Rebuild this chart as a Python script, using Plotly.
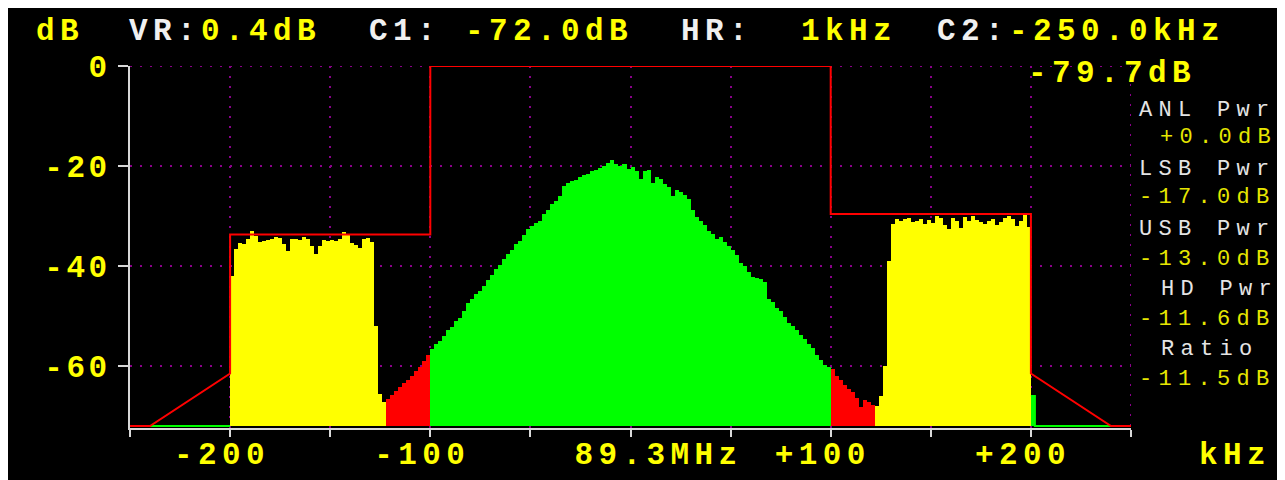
import plotly.graph_objects as go

# ---------------- data ----------------
FLOOR_DB = -72.0
BIN_KHZ = 2

# spectrum bins (centre frequency of first bin, values in dB every 2 kHz)
floor_left_start = -249
floor_left_db = [-72.0, -72.0, -72.0, -72.0, -72.0, -72.0, -72.0, -72.0, -72.0, -72.0,
                 -72.0, -72.0, -72.0, -72.0, -72.0, -72.0, -72.0, -72.0, -72.0, -72.0,
                 -72.0, -72.0, -72.0, -72.0, -72.0]

lsb_start = -199
lsb_db = [-42.0, -36.5, -35.3, -35.5, -34.5, -33.0, -34.0, -35.2, -35.0, -34.8,
          -34.5, -34.2, -34.4, -35.5, -37.0, -34.6, -34.5, -34.8, -34.2, -34.5,
          -35.9, -37.5, -36.0, -34.7, -34.9, -34.8, -35.0, -34.6, -33.2, -33.6,
          -35.3, -35.8, -36.4, -34.6, -34.4, -35.2, -52.0, -65.5, -67.2]

lsb_gap_start = -121
lsb_gap_db = [-66.6, -65.8, -65.0, -64.2, -63.4, -62.8, -62.0, -61.0, -60.2, -59.0, -57.8]

analog_start = -99
analog_db = [-56.5, -55.5, -55.0, -54.0, -52.8, -52.2, -51.0, -50.3, -49.0, -47.3,
             -46.5, -45.5, -45.0, -44.0, -42.8, -41.8, -40.6, -39.8, -38.6, -37.5,
             -36.8, -35.6, -35.0, -33.8, -32.5, -32.0, -31.4, -31.0, -29.5, -28.8,
             -27.6, -27.0, -26.0, -24.0, -23.3, -23.0, -22.7, -22.2, -21.8, -21.5,
             -21.0, -20.8, -20.3, -19.9, -19.4, -18.8, -19.6, -20.0, -19.5, -20.6,
             -20.1, -20.9, -22.6, -21.0, -20.7, -23.3, -22.2, -22.5, -23.5, -24.2,
             -26.0, -24.8, -25.2, -25.8, -26.5, -28.8, -30.2, -31.0, -31.8, -33.0,
             -33.5, -34.5, -34.2, -35.2, -36.0, -36.8, -37.8, -39.3, -40.0, -41.2,
             -42.1, -42.3, -42.6, -43.2, -46.5, -47.2, -48.3, -49.0, -50.2, -51.3,
             -52.0, -52.8, -53.8, -54.6, -55.6, -56.3, -57.8, -58.8, -59.7, -60.2]

usb_gap_start = 101
usb_gap_db = [-60.6, -62.0, -62.8, -63.8, -64.6, -65.1, -66.3, -68.2, -66.8, -67.2, -67.8]

usb_start = 123
usb_db = [-68.0, -66.0, -60.0, -39.0, -31.6, -30.6, -31.0, -30.6, -30.4, -31.2,
          -31.0, -30.5, -31.5, -30.7, -31.3, -30.0, -30.3, -31.8, -32.5, -30.4,
          -31.0, -32.3, -30.2, -31.0, -30.0, -30.8, -31.2, -31.6, -31.0, -30.5,
          -31.8, -31.2, -30.3, -30.0, -30.6, -32.0, -31.0, -29.8, -32.2]

floor_right_start = 201
floor_right_db = [-66.0, -72.0, -72.0, -72.0, -72.0, -72.0, -72.0, -72.0, -72.0, -72.0,
                  -72.0, -72.0, -72.0, -72.0, -72.0, -72.0, -72.0, -72.0, -72.0, -72.0,
                  -72.0, -72.0, -72.0, -72.0, -72.0]

# emission mask
mask_khz = [-250, -240, -200, -200, -100, -100, 100, 100, 200, 200, 240, 250]
mask_db = [-72.0, -72.0, -61.5, -33.7, -33.7, 0.0, 0.0, -29.6, -29.6, -61.5, -72.0, -72.0]

# axes
x_range = [-250, 250]
y_range = [-72.4, 0]
x_tick_vals = [-250, -200, -150, -100, -50, 0, 50, 100, 150, 200, 250]
x_tick_text = ["", "-200", "", "-100", "", "\u00a0\u00a0\u00a089.3MHz", "", "+100", "", "+200", ""]
y_tick_vals = [0, -20, -40, -60]
y_tick_text = ["0", "-20", "-40", "-60"]

# header / side panel texts
header_items = [("dB", "#ffff00", 35, 32), ("VR:", "#f0f0f0", 128, 32), ("0.4dB", "#ffff00", 200, 32),
                ("C1:", "#f0f0f0", 368, 32), ("-72.0dB", "#ffff00", 464, 32),
                ("HR:", "#f0f0f0", 680, 32), ("1kHz", "#ffff00", 800, 32),
                ("C2:", "#f0f0f0", 936, 32), ("-250.0kHz", "#ffff00", 1008, 32),
                ("-79.7dB", "#ffff00", 1027, 73)]
panel_items = [("ANL Pwr", "#e4e4e4", 1138, 110), ("+0.0dB", "#e6e600", 1159, 138),
               ("LSB Pwr", "#e4e4e4", 1138, 169), ("-17.0dB", "#e6e600", 1138, 198),
               ("USB Pwr", "#e4e4e4", 1138, 229), ("-13.0dB", "#e6e600", 1138, 259),
               ("HD Pwr", "#e4e4e4", 1160, 289), ("-11.6dB", "#e6e600", 1138, 319),
               ("Ratio", "#e4e4e4", 1160, 349), ("-11.5dB", "#e6e600", 1138, 379)]

# ---------------- layout geometry ----------------
OFF_X, OFF_Y = 8, 8          # page offset of the figure (body margin)
W, H = 1277, 472
ML, MR, MT, MB = 122, 154, 58, 52
PW, PH = W - ML - MR, H - MT - MB
FONT = "Liberation Mono"
BIG, BIG_SP = 31, 5.4
TICK_SP = 3.6
SMALL, SMALL_SP = 22, 6.3
GRID_COL = "#8a008a"
GRID_DASH = "2px,8px"


def spaced(t, sp):
    return f'<span style="letter-spacing:{sp}px">{t}</span>' if t else ""


def ann(text, color, px, py, size, sp, bold):
    fx, fy = px - OFF_X, py - OFF_Y
    return dict(text=spaced(text, sp), x=(fx - ML) / PW, y=1 - (fy - MT) / PH,
                xref="paper", yref="paper", xanchor="left", yanchor="middle",
                showarrow=False, borderpad=0,
                font=dict(family=FONT, size=size, color=color,
                          weight="bold" if bold else "normal"))


fig = go.Figure()

regions = [
    (floor_left_start, floor_left_db, "#00ff00"),
    (lsb_start, lsb_db, "#ffff00"),
    (lsb_gap_start, lsb_gap_db, "#ff0000"),
    (analog_start, analog_db, "#00ff00"),
    (usb_gap_start, usb_gap_db, "#ff0000"),
    (usb_start, usb_db, "#ffff00"),
    (floor_right_start, floor_right_db, "#00ff00"),
]
for start, vals, col in regions:
    xs = [start + BIN_KHZ * i for i in range(len(vals))]
    fig.add_trace(go.Bar(x=xs, y=[v - FLOOR_DB for v in vals], base=FLOOR_DB, width=BIN_KHZ,
                         marker=dict(color=col, line=dict(width=0)), showlegend=False,
                         hoverinfo="skip"))
    if start in (floor_left_start, floor_right_start):
        fig.add_trace(go.Scatter(x=[x - 1 for x in xs] + [xs[-1] + 1], y=vals + [vals[-1]],
                                 mode="lines", line=dict(color=col, width=2, shape="hv"),
                                 showlegend=False, hoverinfo="skip"))

fig.add_trace(go.Scatter(x=mask_khz, y=mask_db, mode="lines",
                         line=dict(color="#ff0000", width=2), showlegend=False, hoverinfo="skip"))

# dotted grid lines lying on the plot edges (Plotly drops those from the axis grid)
shapes = [
    dict(type="line", xref="x", yref="y", x0=x_range[0], x1=x_range[1], y0=y_tick_vals[0], y1=y_tick_vals[0],
         line=dict(color=GRID_COL, width=2, dash=GRID_DASH), layer="below"),
    dict(type="line", xref="x", yref="y", x0=x_range[1], x1=x_range[1], y0=FLOOR_DB, y1=y_tick_vals[0],
         line=dict(color=GRID_COL, width=2, dash=GRID_DASH), layer="below"),
]

annotations = [ann(t, c, x, y, BIG, BIG_SP, True) for t, c, x, y in header_items]
annotations += [ann(t, c, x, y, SMALL, SMALL_SP, False) for t, c, x, y in panel_items]
annotations.append(ann("kHz", "#ffff00", 1198, 455, BIG, BIG_SP, True))

axis_common = dict(showgrid=True, gridcolor=GRID_COL, gridwidth=2, griddash=GRID_DASH,
                   showline=True, linecolor="#d8d8d8", linewidth=2, ticks="outside",
                   tickcolor="#d8d8d8", tickwidth=2, zeroline=False, automargin=False,
                   tickfont=dict(family=FONT, size=BIG, color="#ffff00", weight="bold"))

fig.update_layout(
    width=W, height=H, margin=dict(l=ML, r=MR, t=MT, b=MB, pad=0),
    paper_bgcolor="#000000", plot_bgcolor="#000000", bargap=0, barmode="overlay",
    xaxis=dict(range=x_range, tickmode="array", tickvals=x_tick_vals,
               ticktext=[spaced(t, BIG_SP) for t in x_tick_text], ticklen=7,
               ticklabelstandoff=-10, ticklabelshift=-8, **axis_common),
    yaxis=dict(range=y_range, tickmode="array", tickvals=y_tick_vals,
               ticktext=[spaced(t, TICK_SP) for t in y_tick_text], ticklen=10,
               ticklabelstandoff=1, **axis_common),
    annotations=annotations,
    shapes=shapes,
)

fig.write_html("out.html")
